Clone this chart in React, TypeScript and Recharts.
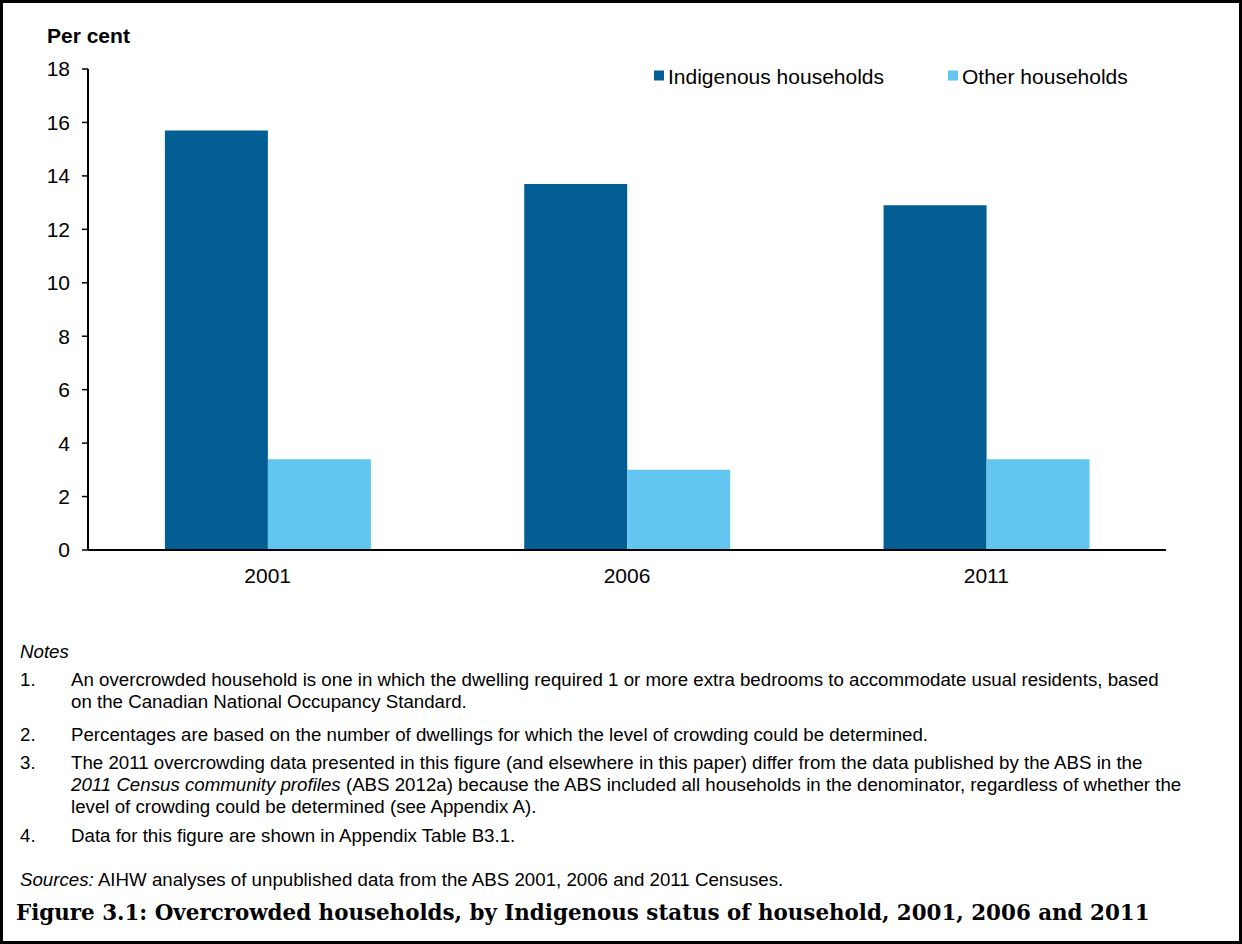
import React from 'react';
import { BarChart, Bar, XAxis, YAxis } from 'recharts';

const years = ['2001', '2006', '2011'];
const indigenous = [15.7, 13.7, 12.9];
const other = [3.4, 3.0, 3.4];
const yTicks = [0, 2, 4, 6, 8, 10, 12, 14, 16, 18];
const seriesNames = ['Indigenous households', 'Other households'];
const seriesColors = ['#025E93', '#62C6F0'];

const yLabel = 'Per cent';
const notesTitle = 'Notes';
const noteNumbers = ['1.', '2.', '3.', '4.'];
type Seg = { t: string; i?: boolean };
const noteLines: Seg[][][] = [
  [
    [{ t: 'An overcrowded household is one in which the dwelling required 1 or more extra bedrooms to accommodate usual residents, based' }],
    [{ t: 'on the Canadian National Occupancy Standard.' }],
  ],
  [[{ t: 'Percentages are based on the number of dwellings for which the level of crowding could be determined.' }]],
  [
    [{ t: 'The 2011 overcrowding data presented in this figure (and elsewhere in this paper) differ from the data published by the ABS in the' }],
    [{ t: '2011 Census community profiles', i: true }, { t: ' (ABS 2012a) because the ABS included all households in the denominator, regardless of whether the' }],
    [{ t: 'level of crowding could be determined (see Appendix A).' }],
  ],
  [[{ t: 'Data for this figure are shown in Appendix Table B3.1.' }]],
];
const sourcesLabel = 'Sources:';
const sourcesText = ' AIHW analyses of unpublished data from the ABS 2001, 2006 and 2011 Censuses.';
const caption = 'Figure 3.1: Overcrowded households, by Indigenous status of household, 2001, 2006 and 2011';

const data = years.map((y, i) => ({ year: y, indigenous: indigenous[i], other: other[i] }));

const SANS = '"Liberation Sans", Arial, sans-serif';
const legendX = [654, 948];
const itemBaselines = [686, 740.5, 768.5, 842];
const LINE_STEP = 22.3;

export default function App() {
  const noteEls: React.ReactNode[] = [];
  noteLines.forEach((item, k) => {
    item.forEach((line, j) => {
      const y = itemBaselines[k] + j * LINE_STEP;
      if (j === 0) {
        noteEls.push(
          <text key={`n${k}`} x={20} y={y}>{noteNumbers[k]}</text>
        );
      }
      noteEls.push(
        <text key={`l${k}-${j}`} x={71} y={y} style={{ whiteSpace: 'pre' }}>
          {line.map((s, m) => (
            <tspan key={m} fontStyle={s.i ? 'italic' : 'normal'}>{s.t}</tspan>
          ))}
        </text>
      );
    });
  });

  return (
    <div style={{ position: 'absolute', left: 0, top: 0, width: 1242, height: 944, background: '#fff', overflow: 'hidden' }}>
      <div style={{ position: 'absolute', left: 0, top: 0 }}>
        <BarChart
          width={1242}
          height={600}
          data={data}
          margin={{ top: 69, right: 76, bottom: 20, left: 0 }}
          barCategoryGap="21.4%"
          barGap={0}
        >
          <XAxis
            dataKey="year"
            tickLine={false}
            tickMargin={12}
            height={30}
            axisLine={{ stroke: '#000', strokeWidth: 2 }}
            tick={{ fill: '#000', fontSize: 21, fontFamily: SANS }}
          />
          <YAxis
            width={88}
            domain={[0, 18]}
            ticks={yTicks}
            interval={0}
            tickSize={6}
            tickMargin={12}
            axisLine={{ stroke: '#000', strokeWidth: 2 }}
            tickLine={{ stroke: '#000', strokeWidth: 1.5 }}
            tick={{ fill: '#000', fontSize: 21, fontFamily: SANS }}
          />
          <Bar dataKey="indigenous" name={seriesNames[0]} fill={seriesColors[0]} isAnimationActive={false} />
          <Bar dataKey="other" name={seriesNames[1]} fill={seriesColors[1]} isAnimationActive={false} />
        </BarChart>
      </div>
      <svg width={1242} height={944} style={{ position: 'absolute', left: 0, top: 0, pointerEvents: 'none' }}>
        <text x={47} y={42.7} fontFamily={SANS} fontWeight="bold" fontSize={21} fill="#000">{yLabel}</text>
        {seriesNames.map((n, i) => (
          <g key={n}>
            <rect x={legendX[i]} y={70.5} width={10} height={10} fill={seriesColors[i]} />
            <text x={legendX[i] + 14} y={83.5} fontFamily={SANS} fontSize={21} fill="#000">
              {n}
            </text>
          </g>
        ))}
        <g fontFamily={SANS} fontSize={18.7} fill="#000">
          <text x={20} y={657.5} fontStyle="italic">{notesTitle}</text>
          {noteEls}
          <text x={20} y={886} style={{ whiteSpace: 'pre' }}>
            <tspan fontStyle="italic">{sourcesLabel}</tspan>
            <tspan>{sourcesText}</tspan>
          </text>
        </g>
        <text x={16} y={920} fontFamily='"DejaVu Serif", "Liberation Serif", serif' fontWeight="bold" fontSize={21.4} fill="#000">{caption}</text>
      </svg>
      <div style={{ position: 'absolute', left: 0, top: 0, width: 1242, height: 944, border: '3px solid #000', boxSizing: 'border-box', pointerEvents: 'none' }} />
    </div>
  );
}
